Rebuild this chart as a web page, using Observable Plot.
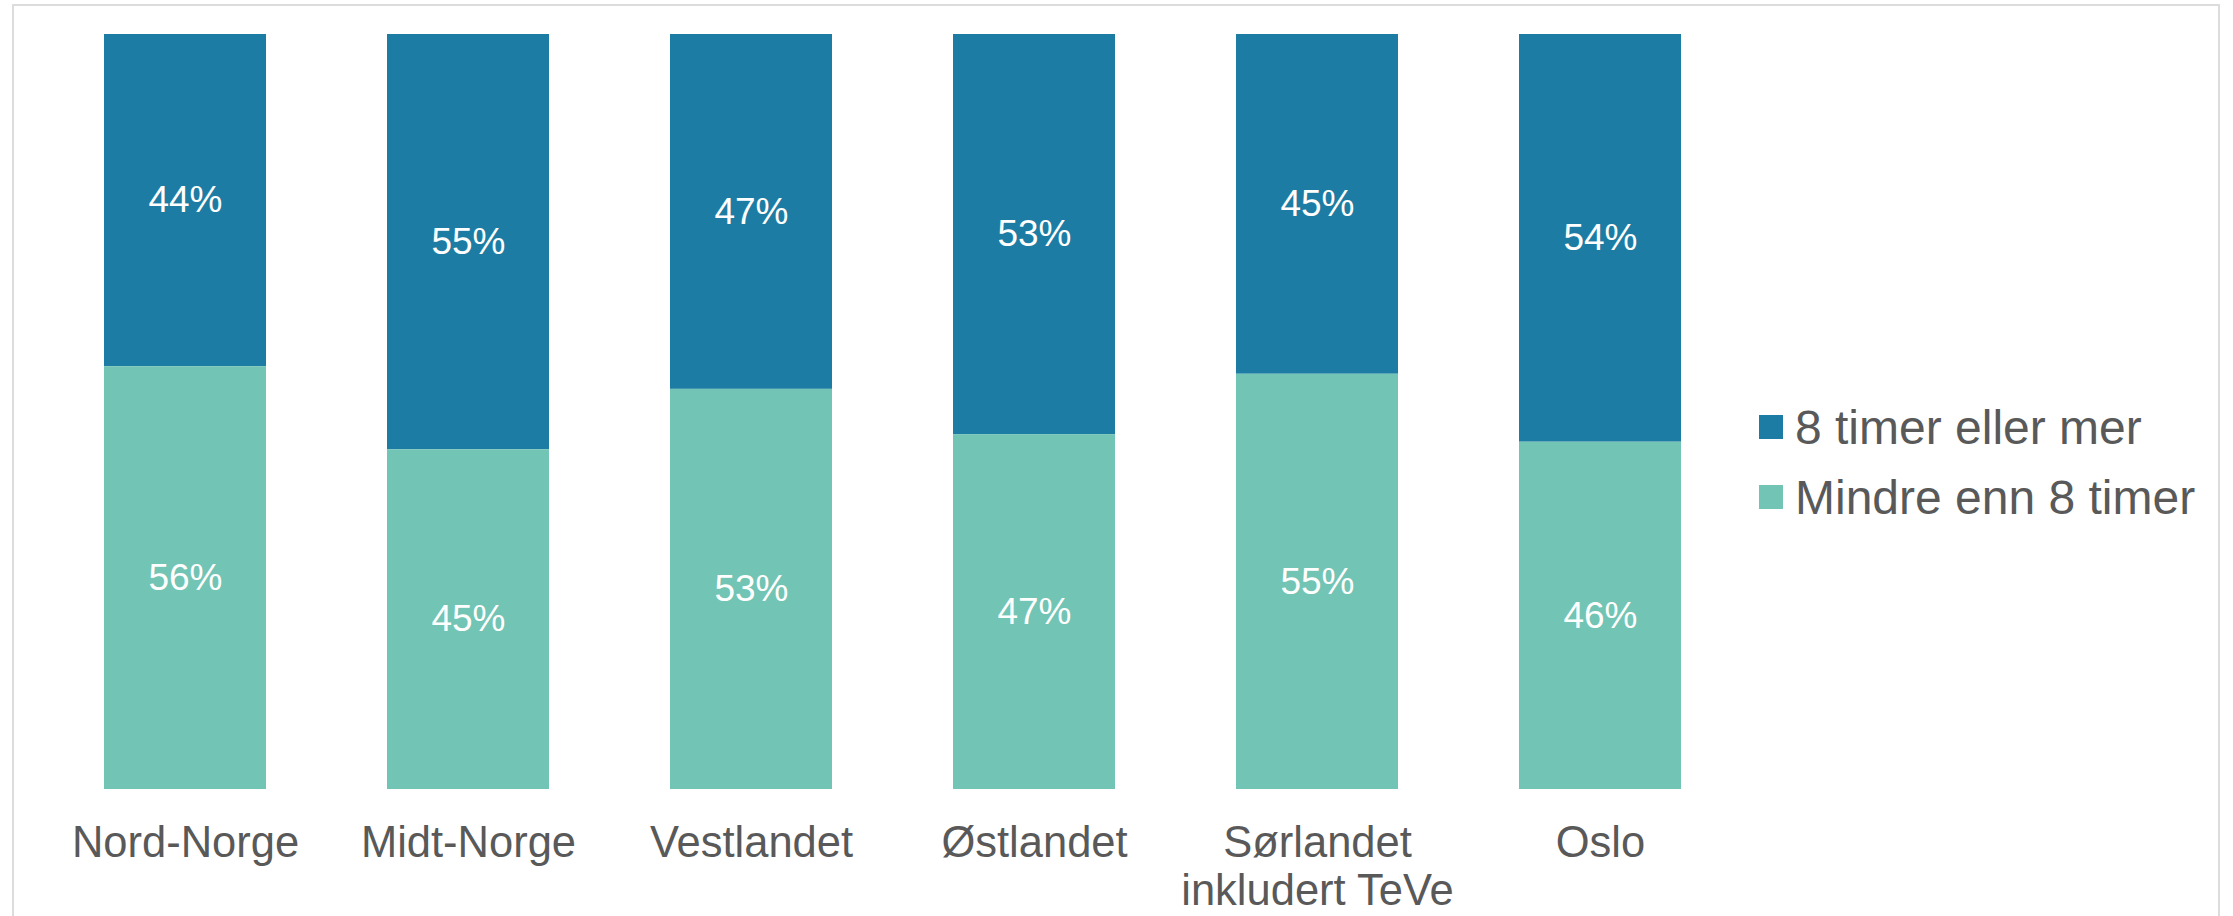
<!DOCTYPE html>
<html>
<head>
<meta charset="utf-8">
<script src="https://cdn.jsdelivr.net/npm/d3@7"></script>
<script src="https://cdn.jsdelivr.net/npm/@observablehq/plot@0.6"></script>
<style>
  html, body { margin: 0; padding: 0; background: #fff; width: 2233px; height: 916px; overflow: hidden; }
  #wrap { position: relative; width: 2233px; height: 916px; }
  #border { position: absolute; left: 12px; top: 4px; width: 2208px; height: 1000px; border: 2px solid #dcdcdc; box-sizing: border-box; }
  #chart { position: absolute; left: 0; top: 0; }
  #legend { position: absolute; left: 1759px; top: 400px; font-family: "Liberation Sans", Arial, sans-serif; font-size: 48px; color: #595959; }
  .item { position: absolute; left: 0; white-space: nowrap; display: flex; align-items: center; height: 54px; }
  .sw { width: 24px; height: 24px; margin-right: 12px; }
</style>
</head>
<body>
<div id="wrap">
  <div id="border"></div>
  <div id="chart"></div>
  <div id="legend"></div>
</div>
<script>
const regions = ["Nord-Norge", "Midt-Norge", "Vestlandet", "Østlandet", "Sørlandet inkludert TeVe", "Oslo"];
const regionLabels = ["Nord-Norge", "Midt-Norge", "Vestlandet", "Østlandet", "Sørlandet\ninkludert TeVe", "Oslo"];
const series = ["8 timer eller mer", "Mindre enn 8 timer"];
const seriesColors = ["#1d7ca3", "#72c4b4"];
const eightOrMore = [44, 55, 47, 53, 45, 54];
const lessThanEight = [56, 45, 53, 47, 55, 46];

const data = [];
regions.forEach((r, i) => {
  data.push({region: r, series: series[0], value: eightOrMore[i]});
  data.push({region: r, series: series[1], value: lessThanEight[i]});
});
const labelOf = new Map(regions.map((r, i) => [r, regionLabels[i]]));
const stackOrder = [series[1], series[0]];

const chart = Plot.plot({
  width: 2233,
  height: 916,
  marginTop: 34,
  marginBottom: 127,
  marginLeft: 43,
  marginRight: 492,
  style: {fontFamily: "'Liberation Sans', Arial, sans-serif", fontSize: "43px", color: "#595959", background: "transparent", overflow: "visible"},
  x: {domain: regions, paddingInner: 0.428, paddingOuter: 0.214, label: null},
  y: {domain: [0, 100], axis: null},
  color: {domain: series, range: seriesColors},
  marks: [
    Plot.barY(data, Plot.stackY({x: "region", y: "value", z: "series", fill: "series", order: stackOrder})),
    Plot.text(data, Plot.stackY({x: "region", y: "value", z: "series", order: stackOrder, text: d => d.value + "%", fill: "white", fontSize: 37})),
    Plot.axisX({tickSize: 0, tickPadding: 34, fontSize: 43.5, lineHeight: 1.1, tickFormat: d => labelOf.get(d), fill: "#595959"})
  ]
});
document.getElementById("chart").appendChild(chart);

const legend = document.getElementById("legend");
series.forEach((s, i) => {
  const item = document.createElement("div");
  item.className = "item";
  item.style.top = (i * 70) + "px";
  const sw = document.createElement("span");
  sw.className = "sw";
  sw.style.background = seriesColors[i];
  const t = document.createElement("span");
  t.textContent = s;
  item.appendChild(sw);
  item.appendChild(t);
  legend.appendChild(item);
});
</script>
</body>
</html>
